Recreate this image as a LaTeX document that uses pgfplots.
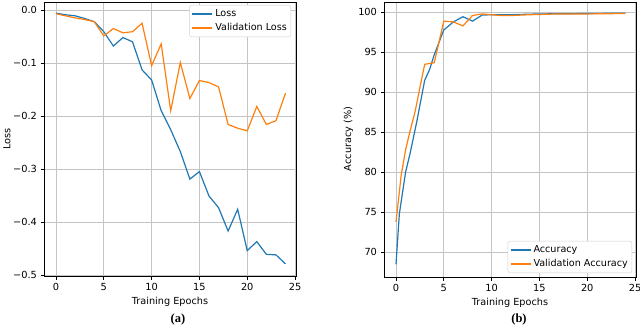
\documentclass[border=0pt]{standalone}
\usepackage{fontspec}
\setmainfont{DejaVu Sans}
\newfontfamily\capfont{Liberation Serif}
\usepackage{pgfplots}
\pgfplotsset{compat=1.18}

\definecolor{mplblue}{HTML}{1F77B4}
\definecolor{mplorange}{HTML}{FF7F0E}
\definecolor{gridgray}{HTML}{C4C4C4}
\definecolor{legframe}{HTML}{D0D0D0}

\pgfplotsset{
  mpl/.style={
    scale only axis, width=252pt,
    axis line style={black, line width=0.8pt},
    tick align=outside, tick pos=left, major tick length=3.5pt,
    every tick/.style={black, line width=0.8pt},
    grid=major, major grid style={gridgray, line width=0.9pt},
    xmin=-1.255, xmax=25.1, xtick={0,5,...,25},
    ticklabel style={font=\fontsize{9.8}{11}\selectfont},
    label style={font=\fontsize{9.7}{11}\selectfont},
    /pgf/number format/assume math mode=true,
    xlabel={Training Epochs},
    xlabel style={at={(rel axis cs:0.5,0)}, anchor=center, yshift=-26pt},
    legend cell align=left,
    legend style={font=\fontsize{9.6}{11}\selectfont, draw=legframe, rounded corners=2pt,
      fill=white, inner xsep=2pt, inner ysep=2pt,
      nodes={inner xsep=2pt, inner ysep=2.6pt}},
    legend image code/.code={\draw[#1, line width=1.6pt] (0pt,0pt) -- (20pt,0pt);},
  }
}

\begin{document}
\begin{tikzpicture}
\useasboundingbox (0,0) rectangle (640pt,327pt);

% (a) loss
\begin{axis}[mpl, at={(44pt,51pt)}, anchor=south west, height=274pt,
    ymin=-0.5019, ymax=0.0151,
    ytick={-0.5,-0.4,-0.3,-0.2,-0.1,0},
    yticklabels={−0.5,−0.4,−0.3,−0.2,−0.1,0.0},
    legend style={at={(rel axis cs:1,1)}, anchor=north east, xshift=-5pt, yshift=-3pt},
  ]
  \addplot[mplblue, line width=1.2pt] coordinates {
    (0,-0.006) (1,-0.009) (2,-0.011) (3,-0.016) (4,-0.022) (5,-0.041)
    (6,-0.068) (7,-0.052) (8,-0.060) (9,-0.113) (10,-0.132) (11,-0.190)
    (12,-0.226) (13,-0.267) (14,-0.319) (15,-0.305) (16,-0.351) (17,-0.373)
    (18,-0.417) (19,-0.376) (20,-0.454) (21,-0.437) (22,-0.461) (23,-0.462)
    (24,-0.479)
  };
  \addlegendentry{Loss}
  \addplot[mplorange, line width=1.2pt] coordinates {
    (0,-0.007) (1,-0.011) (2,-0.015) (3,-0.018) (4,-0.022) (5,-0.049)
    (6,-0.035) (7,-0.043) (8,-0.041) (9,-0.025) (10,-0.105) (11,-0.064)
    (12,-0.190) (13,-0.099) (14,-0.167) (15,-0.133) (16,-0.137) (17,-0.145)
    (18,-0.216) (19,-0.223) (20,-0.228) (21,-0.182) (22,-0.216) (23,-0.209)
    (24,-0.157)
  };
  \addlegendentry{Validation Loss}
\end{axis}

% (b) accuracy
\begin{axis}[mpl, at={(384pt,50pt)}, anchor=south west, height=275pt,
    ymin=66.91, ymax=101.29,
    ytick={70,75,...,100},
    legend style={at={(rel axis cs:1,0)}, anchor=south east, xshift=-4pt, yshift=4pt},
  ]
  \addplot[mplblue, line width=1.2pt] coordinates {
    (0,68.5) (0.35,74.8) (1,80.0) (1.5,82.5) (2.2,86.5) (2.6,89.0) (3,91.5)
    (3.5,92.8) (4,94.7) (5,97.8) (6,98.8) (7,99.45) (8,98.9) (9,99.65)
    (10,99.7) (12,99.7) (15,99.8) (20,99.85) (24,99.9)
  };
  \addlegendentry{Accuracy}
  \addplot[mplorange, line width=1.2pt] coordinates {
    (0,73.8) (0.55,79.7) (1,82.8) (1.5,85.3) (2,87.6) (2.5,90.6) (3,93.5)
    (4,93.7) (5,98.9) (6,98.8) (7,98.3) (8,99.6) (9,99.8) (10,99.7)
    (11,99.6) (12,99.6) (14,99.7) (17,99.8) (20,99.8) (24,99.85)
  };
  \addlegendentry{Validation Accuracy}
\end{axis}

% axis titles
\node[rotate=90, font=\fontsize{9.7}{11}\selectfont] at (7pt,188pt) {Loss};
\node[rotate=90, font=\fontsize{9.7}{11}\selectfont] at (348.5pt,188pt) {Accuracy (\%)};

\node[font=\capfont\bfseries\fontsize{12.5}{14}\selectfont] at (178pt,8pt) {(a)};
\node[font=\capfont\bfseries\fontsize{12.5}{14}\selectfont] at (519pt,8pt) {(b)};
\end{tikzpicture}
\end{document}
